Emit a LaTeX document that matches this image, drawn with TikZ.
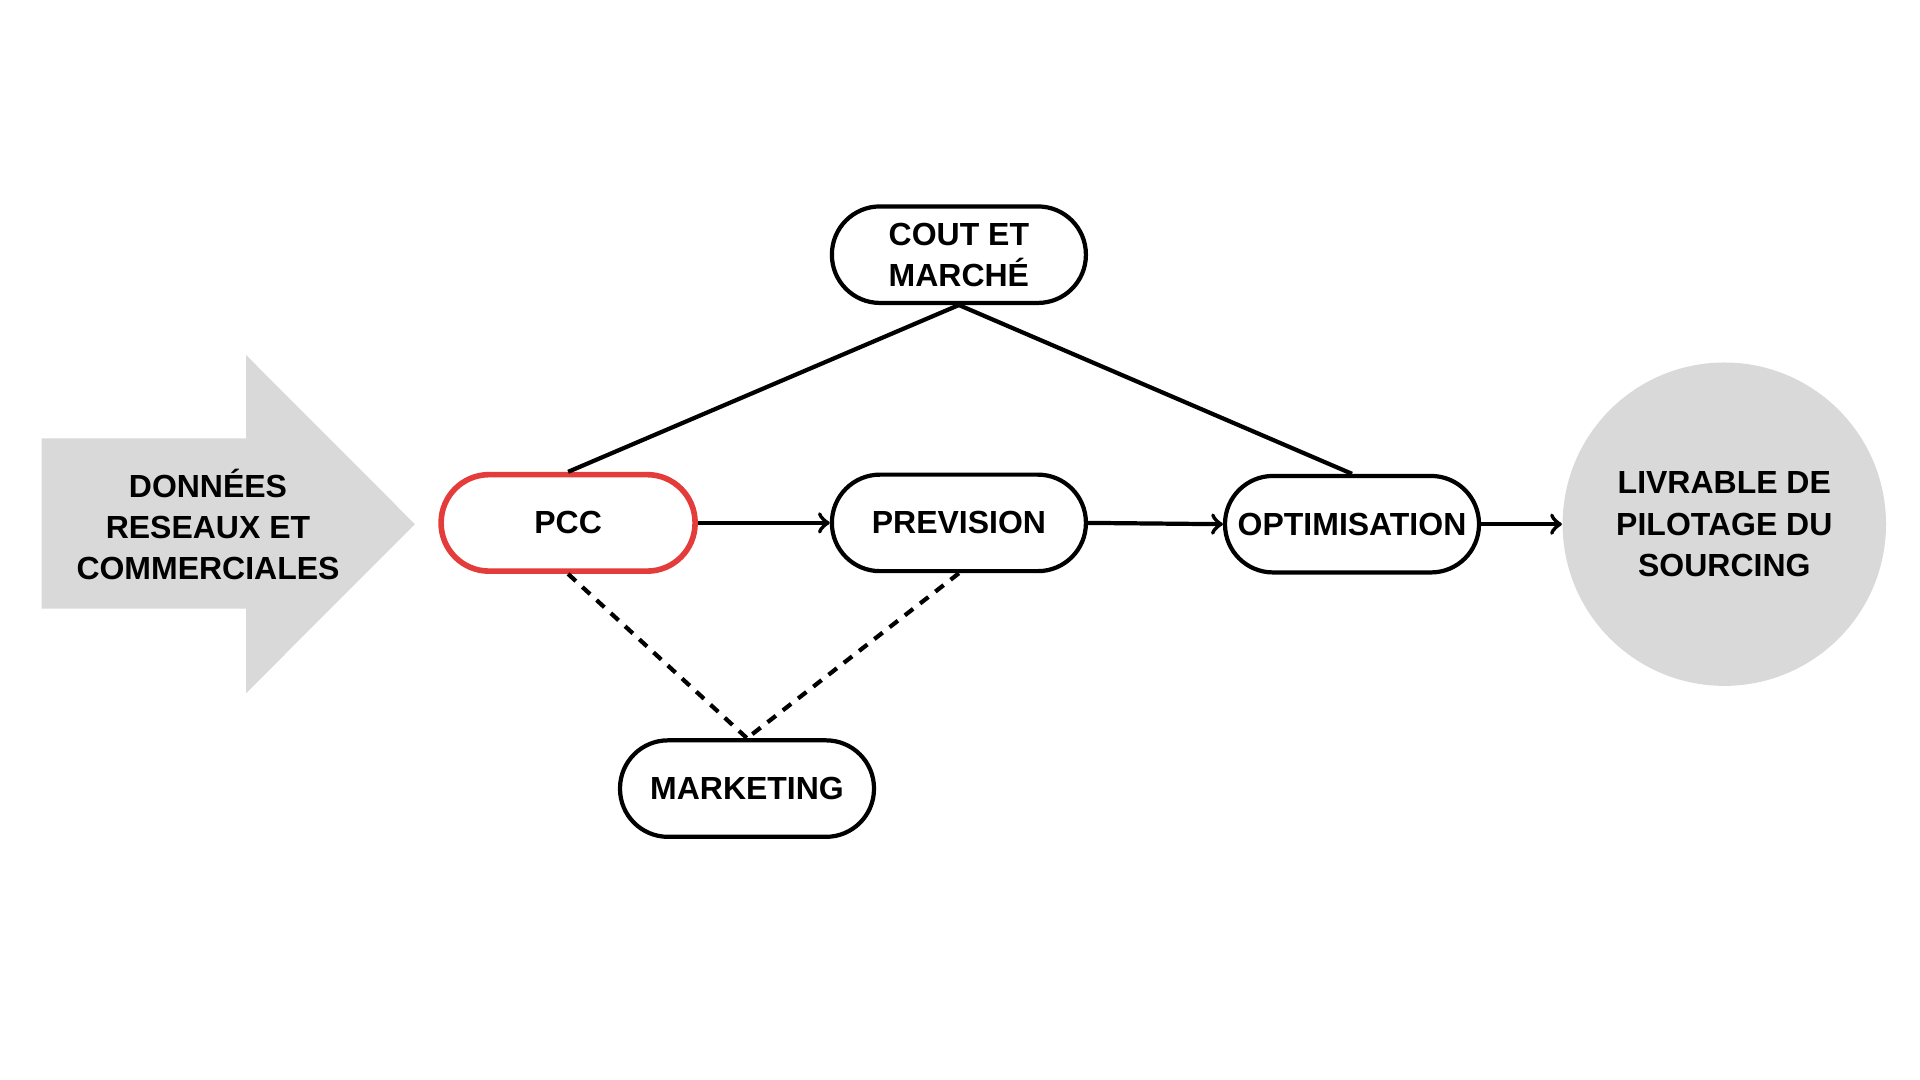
\documentclass[tikz,border=0pt]{standalone}
\usepackage{fontspec}
\setmainfont{Liberation Sans}
\usetikzlibrary{positioning}
\definecolor{lightgrey}{HTML}{D9D9D9}
\definecolor{pccred}{HTML}{E43B3B}

\begin{document}
\begin{tikzpicture}[
    font=\fontsize{9.1}{11.7}\selectfont\bfseries,
    stage/.style={draw, line width=1.2pt, rounded corners=0.48cm,
      minimum width=2.54cm, minimum height=0.965cm, align=center, fill=white},
    link/.style={line width=1.2pt},
    flow/.style={->, line width=1.2pt},
    dotlink/.style={line width=1.2pt, dash pattern=on 3pt off 2.5pt}
  ]
  \useasboundingbox (0, 0) rectangle (19.2, 10.8);

  % input arrow and output disc
  \fill[lightgrey] (0.416, 6.416) -- (2.462, 6.416) -- (2.462, 7.248) -- (4.149, 5.558)
    -- (2.462, 3.869) -- (2.462, 4.714) -- (0.416, 4.714) -- cycle;
  \node (donnees) at (2.08, 5.558) [align=center] {DONNÉES\\RESEAUX ET\\COMMERCIALES};
  \node (livrable) at (17.243, 5.558) [circle, fill=lightgrey, minimum size=3.234cm, align=center, inner sep=0pt]
    {LIVRABLE DE\\PILOTAGE DU\\SOURCING};

  \node (pcc) at (5.681, 5.571) [stage, draw=pccred, line width=1.6pt] {PCC};
  \node (prevision) at (9.589, 5.571) [stage] {PREVISION};
  \node (optim) at (13.52, 5.558) [stage] {OPTIMISATION};
  \node (cout) at (9.589, 8.253) [stage] {COUT ET\\MARCHÉ};
  \node (marketing) at (7.47, 2.914) [stage] {MARKETING};

  \draw[link] (cout.south) -- (pcc.north);
  \draw[link] (cout.south) -- (optim.north);
  \draw[dotlink] (pcc.south) -- (marketing.north);
  \draw[dotlink] (prevision.south) -- (marketing.north);

  \draw[flow] (pcc.east) -- (prevision.west);
  \draw[flow] (prevision.east) -- (optim.west);
  \draw[flow] (optim.east) -- (livrable.west);
\end{tikzpicture}
\end{document}
